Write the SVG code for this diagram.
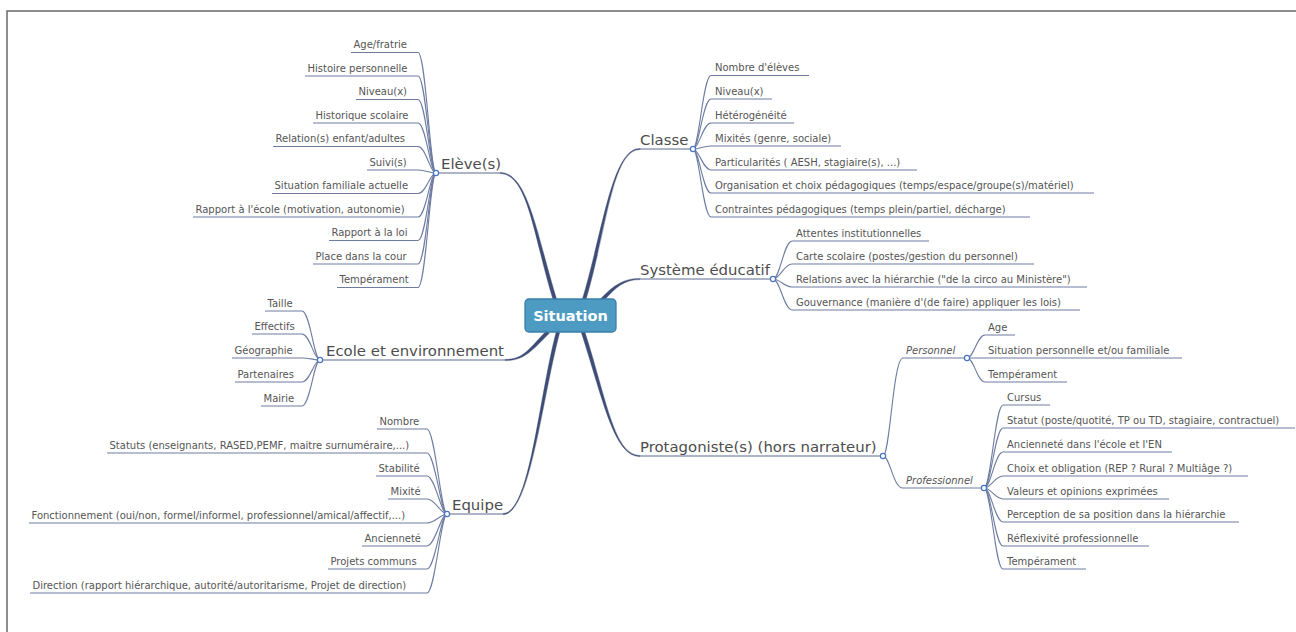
<svg xmlns="http://www.w3.org/2000/svg" width="1296" height="632" viewBox="0 0 1296 632">
<style>
.leaf{font-family:"DejaVu Sans",Verdana,sans-serif;font-size:10px;fill:#555}
.main{font-family:"DejaVu Sans",Verdana,sans-serif;font-size:14.9px;fill:#4d4d4d}
.sub{font-family:"DejaVu Sans",Verdana,sans-serif;font-size:10px;font-style:italic;fill:#555}
.ln{fill:none;stroke:#6e7ca2;stroke-width:1.1}
.br{fill:#3e4d76;stroke:#3e4d76;stroke-width:0.4;stroke-linejoin:round}
.ul{fill:none;stroke:#5c6b92;stroke-width:1.2}
.dot{fill:#fff;stroke:#4a74c4;stroke-width:1.2}
</style>
<rect width="1296" height="632" fill="#fff"/>
<path d="M7 632 L7 11 L1296 11" fill="none" stroke="#6a6a6a" stroke-width="1.5"/>

<g id="connectors">
  <!-- main branches (tapered) -->
  <path class="br" d="M556.7 299.5 C536.7 234.5 528 172.4 500 172.4 L500 173.6 C528 173.6 533.3 235.5 553.3 300.5 Z"/>
  <path class="ul" d="M500 173 L436 173"/>
  <path class="br" d="M585.7 300.5 C606.7 230.5 612 149.6 640 149.6 L640 148.4 C612 148.4 603.3 229.5 582.3 299.5 Z"/>
  <path class="ul" d="M640 149 L693 149"/>
  <path class="br" d="M603.3 301.2 C616.3 287.2 624 279.6 640 279.6 L640 278.4 C624 278.4 613.7 284.8 600.7 298.8 Z"/>
  <path class="ul" d="M640 279 L773 279"/>
  <path class="br" d="M546.7 330.7 C528.7 348.7 524 359.4 505 359.4 L505 360.6 C524 360.6 531.3 351.3 549.3 333.3 Z"/>
  <path class="ul" d="M505 360 L320 360"/>
  <path class="br" d="M556.3 331.5 C538.3 399.5 530 513.4 503 513.4 L503 514.6 C530 514.6 541.7 400.5 559.7 332.5 Z"/>
  <path class="ul" d="M503 514 L447 514"/>
  <path class="br" d="M581.3 332.6 C603.3 400.6 614 456.6 640 456.6 L640 455.4 C614 455.4 606.7 399.4 584.7 331.4 Z"/>
  <path class="ul" d="M640 456 L883 456"/>

  <!-- Eleve children -->
  <path class="ln" d="M351 52.5 L418 52.5 C426 52.5 430 173 436 173"/>
  <path class="ln" d="M305 76 L418 76 C426 76 430 173 436 173"/>
  <path class="ln" d="M356 99.5 L418 99.5 C426 99.5 430 173 436 173"/>
  <path class="ln" d="M313 123 L418 123 C426 123 430 173 436 173"/>
  <path class="ln" d="M273 146.5 L418 146.5 C426 146.5 430 173 436 173"/>
  <path class="ln" d="M367 170 L418 170 C426 170 430 173 436 173"/>
  <path class="ln" d="M272 193.5 L418 193.5 C426 193.5 430 173 436 173"/>
  <path class="ln" d="M193 217 L418 217 C426 217 430 173 436 173"/>
  <path class="ln" d="M329 240.5 L418 240.5 C426 240.5 430 173 436 173"/>
  <path class="ln" d="M313 264 L418 264 C426 264 430 173 436 173"/>
  <path class="ln" d="M337 287.5 L418 287.5 C426 287.5 430 173 436 173"/>

  <!-- Classe children -->
  <path class="ln" d="M693 149 C699 149 703 75.5 711 75.5 L809 75.5"/>
  <path class="ln" d="M693 149 C699 149 703 99 711 99 L772 99"/>
  <path class="ln" d="M693 149 C699 149 703 123 711 123 L794 123"/>
  <path class="ln" d="M693 149 C699 149 703 146 711 146 L841 146"/>
  <path class="ln" d="M693 149 C699 149 703 170 711 170 L917 170"/>
  <path class="ln" d="M693 149 C699 149 703 193 711 193 L1094 193"/>
  <path class="ln" d="M693 149 C699 149 703 217 711 217 L1030 217"/>

  <!-- Systeme children -->
  <path class="ln" d="M773 279 C780 279 784 241 792 241 L929 241"/>
  <path class="ln" d="M773 279 C780 279 784 264 792 264 L1034 264"/>
  <path class="ln" d="M773 279 C780 279 784 287 792 287 L1087 287"/>
  <path class="ln" d="M773 279 C780 279 784 310 792 310 L1080 310"/>

  <!-- Protagonistes sub -->
  <path class="ln" d="M883 456 C890 456 893 358 903 358 L967 358"/>
  <path class="ln" d="M883 456 C890 456 893 488 903 488 L984 488"/>

  <!-- Personnel children -->
  <path class="ln" d="M967 358 C974 358 977 335 985 335 L1015 335"/>
  <path class="ln" d="M967 358 L1182 358"/>
  <path class="ln" d="M967 358 C974 358 977 382 985 382 L1067 382"/>

  <!-- Professionnel children -->
  <path class="ln" d="M984 488 C991 488 995 405 1003 405 L1050 405"/>
  <path class="ln" d="M984 488 C991 488 995 428 1003 428 L1295 428"/>
  <path class="ln" d="M984 488 C991 488 995 452 1003 452 L1172 452"/>
  <path class="ln" d="M984 488 C991 488 995 476 1003 476 L1248 476"/>
  <path class="ln" d="M984 488 C991 488 995 499 1003 499 L1169 499"/>
  <path class="ln" d="M984 488 C991 488 995 522 1003 522 L1239 522"/>
  <path class="ln" d="M984 488 C991 488 995 546 1003 546 L1149 546"/>
  <path class="ln" d="M984 488 C991 488 995 569 1003 569 L1086 569"/>

  <!-- Ecole children -->
  <path class="ln" d="M265 311 L302 311 C310 311 314 360 320 360"/>
  <path class="ln" d="M252 334 L302 334 C310 334 314 360 320 360"/>
  <path class="ln" d="M232 358 L302 358 C310 358 314 360 320 360"/>
  <path class="ln" d="M235 382 L302 382 C310 382 314 360 320 360"/>
  <path class="ln" d="M261 406 L302 406 C310 406 314 360 320 360"/>

  <!-- Equipe children -->
  <path class="ln" d="M377 429 L427 429 C435 429 441 514 447 514"/>
  <path class="ln" d="M107 453 L427 453 C435 453 441 514 447 514"/>
  <path class="ln" d="M376 476 L427 476 C435 476 441 514 447 514"/>
  <path class="ln" d="M388 499 L427 499 C435 499 441 514 447 514"/>
  <path class="ln" d="M29 523 L427 523 C435 523 441 514 447 514"/>
  <path class="ln" d="M362 546 L427 546 C435 546 441 514 447 514"/>
  <path class="ln" d="M328 569 L427 569 C435 569 441 514 447 514"/>
  <path class="ln" d="M30 593 L427 593 C435 593 441 514 447 514"/>
</g>

<g id="situation">
  <rect x="525" y="299" width="91" height="33" rx="4" fill="#4d9bc2" stroke="#3a80ab" stroke-width="1.3"/>
  <text x="570.5" y="321" text-anchor="middle" font-family="DejaVu Sans, Verdana, sans-serif" font-size="14.5" font-weight="bold" fill="#fff">Situation</text>
</g>

<g id="eleves">
  <text class="main" x="441" y="168.5">Elève(s)</text>
  <circle class="dot" cx="436" cy="173" r="2.6"/>
  <text class="leaf" x="353.5" y="48">Age/fratrie</text>
  <text class="leaf" x="307.5" y="71.5">Histoire personnelle</text>
  <text class="leaf" x="358.5" y="95">Niveau(x)</text>
  <text class="leaf" x="315.5" y="118.5">Historique scolaire</text>
  <text class="leaf" x="275.5" y="142">Relation(s) enfant/adultes</text>
  <text class="leaf" x="369.5" y="165.5">Suivi(s)</text>
  <text class="leaf" x="274.5" y="189">Situation familiale actuelle</text>
  <text class="leaf" x="195.5" y="212.5">Rapport à l'école (motivation, autonomie)</text>
  <text class="leaf" x="331.5" y="236">Rapport à la loi</text>
  <text class="leaf" x="315.5" y="259.5">Place dans la cour</text>
  <text class="leaf" x="339.5" y="283">Tempérament</text>
</g>

<g id="classe">
  <text class="main" x="640" y="145">Classe</text>
  <circle class="dot" cx="693" cy="149" r="2.6"/>
  <text class="leaf" x="715" y="71">Nombre d'élèves</text>
  <text class="leaf" x="715" y="94.5">Niveau(x)</text>
  <text class="leaf" x="715" y="118.5">Hétérogénéité</text>
  <text class="leaf" x="715" y="141.5">Mixités (genre, sociale)</text>
  <text class="leaf" x="715" y="165.5">Particularités ( AESH, stagiaire(s), ...)</text>
  <text class="leaf" x="715" y="188.5">Organisation et choix pédagogiques (temps/espace/groupe(s)/matériel)</text>
  <text class="leaf" x="715" y="212.5">Contraintes pédagogiques (temps plein/partiel, décharge)</text>
</g>

<g id="systeme">
  <text class="main" x="640" y="275">Système éducatif</text>
  <circle class="dot" cx="773" cy="279" r="2.6"/>
  <text class="leaf" x="796" y="236.5">Attentes institutionnelles</text>
  <text class="leaf" x="796" y="259.5">Carte scolaire (postes/gestion du personnel)</text>
  <text class="leaf" x="796" y="282.5">Relations avec la hiérarchie ("de la circo au Ministère")</text>
  <text class="leaf" x="796" y="305.5">Gouvernance (manière d'(de faire) appliquer les lois)</text>
</g>

<g id="protagonistes">
  <text class="main" x="640" y="452">Protagoniste(s) (hors narrateur)</text>
  <circle class="dot" cx="883" cy="456" r="2.6"/>
</g>

<g id="personnel">
  <text class="sub" x="906" y="354">Personnel</text>
  <circle class="dot" cx="967" cy="358" r="2.6"/>
  <text class="leaf" x="988" y="330.5">Age</text>
  <text class="leaf" x="988" y="353.5">Situation personnelle et/ou familiale</text>
  <text class="leaf" x="988" y="377.5">Tempérament</text>
</g>

<g id="professionnel">
  <text class="sub" x="906" y="484">Professionnel</text>
  <circle class="dot" cx="984" cy="488" r="2.6"/>
  <text class="leaf" x="1007" y="400.5">Cursus</text>
  <text class="leaf" x="1007" y="423.5">Statut (poste/quotité, TP ou TD, stagiaire, contractuel)</text>
  <text class="leaf" x="1007" y="447.5">Ancienneté dans l'école et l'EN</text>
  <text class="leaf" x="1007" y="471.5">Choix et obligation (REP ? Rural ? Multiâge ?)</text>
  <text class="leaf" x="1007" y="494.5">Valeurs et opinions exprimées</text>
  <text class="leaf" x="1007" y="517.5">Perception de sa position dans la hiérarchie</text>
  <text class="leaf" x="1007" y="541.5">Réflexivité professionnelle</text>
  <text class="leaf" x="1007" y="564.5">Tempérament</text>
</g>

<g id="ecole">
  <text class="main" x="326" y="356">Ecole et environnement</text>
  <circle class="dot" cx="320" cy="360" r="2.6"/>
  <text class="leaf" x="267.5" y="306.5">Taille</text>
  <text class="leaf" x="254.5" y="329.5">Effectifs</text>
  <text class="leaf" x="234.5" y="353.5">Géographie</text>
  <text class="leaf" x="237.5" y="377.5">Partenaires</text>
  <text class="leaf" x="263.5" y="401.5">Mairie</text>
</g>

<g id="equipe">
  <text class="main" x="452" y="510">Equipe</text>
  <circle class="dot" cx="447" cy="514" r="2.6"/>
  <text class="leaf" x="379.5" y="424.5">Nombre</text>
  <text class="leaf" x="109.5" y="448.5">Statuts (enseignants, RASED,PEMF, maitre surnuméraire,...)</text>
  <text class="leaf" x="378.5" y="471.5">Stabilité</text>
  <text class="leaf" x="390.5" y="494.5">Mixité</text>
  <text class="leaf" x="31.5" y="518.5">Fonctionnement (oui/non, formel/informel, professionnel/amical/affectif,...)</text>
  <text class="leaf" x="364.5" y="541.5">Ancienneté</text>
  <text class="leaf" x="330.5" y="564.5">Projets communs</text>
  <text class="leaf" x="32.5" y="588.5">Direction (rapport hiérarchique, autorité/autoritarisme, Projet de direction)</text>
</g>
</svg>
